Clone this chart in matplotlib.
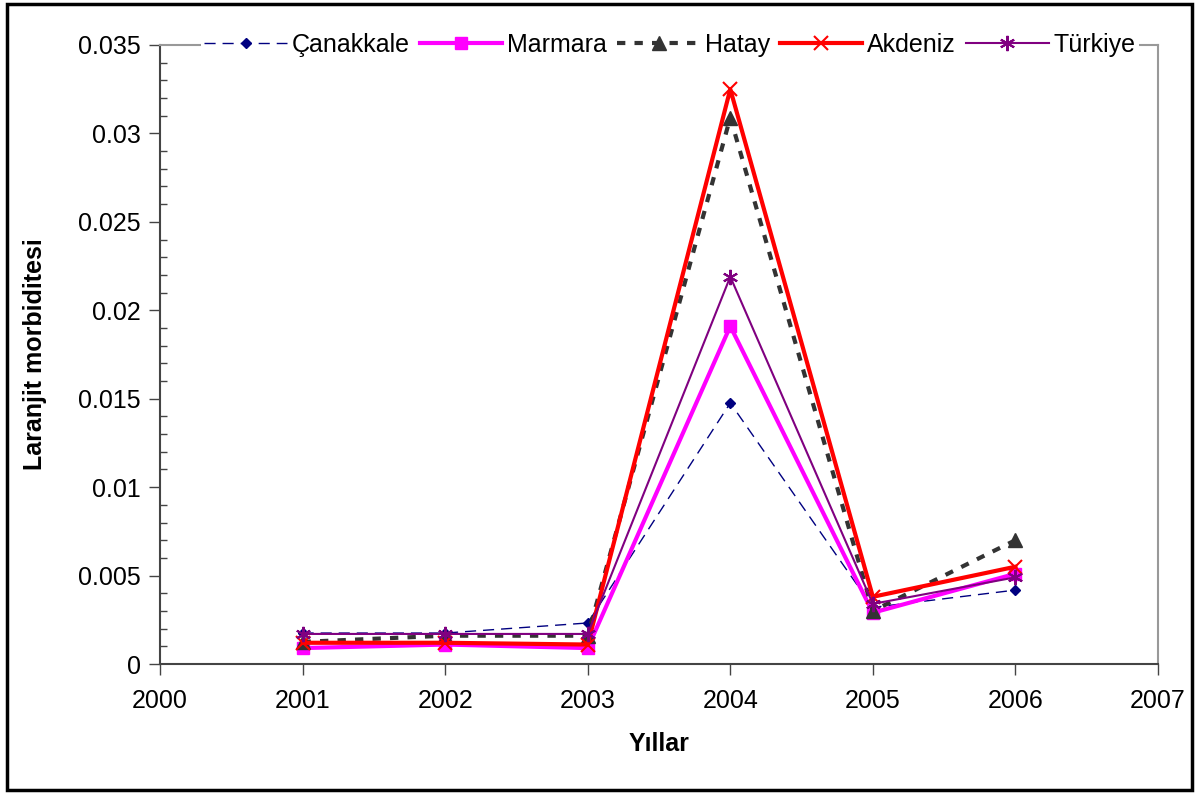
import matplotlib
matplotlib.use("Agg")
import matplotlib.pyplot as plt
from matplotlib.patches import Rectangle
from matplotlib.ticker import MultipleLocator, FuncFormatter

years = [2001, 2002, 2003, 2004, 2005, 2006]
canakkale = [0.00175, 0.00175, 0.00232, 0.01476, 0.0032, 0.00418]
marmara = [0.0009, 0.0011, 0.0009, 0.0191, 0.0029, 0.0051]
hatay = [0.00125, 0.0016, 0.0016, 0.0309, 0.0030, 0.0070]
akdeniz = [0.0012, 0.0012, 0.0011, 0.0325, 0.0038, 0.0055]
turkiye = [0.0017, 0.0017, 0.0017, 0.0219, 0.0034, 0.0049]
labels = ["Çanakkale", "Marmara", "Hatay", "Akdeniz", "Türkiye"]

plt.rcParams['font.family'] = ['Liberation Sans', 'DejaVu Sans']

fig = plt.figure(figsize=(11.98, 7.94), dpi=100)
ax = fig.add_axes([160/1198, 1-664/794, (1158-160)/1198, (664-45)/794])

ax.plot(years, canakkale, color='#000080', lw=1, ls=(0, (8, 5)), marker='D', ms=5,
        label=labels[0])
ax.plot(years, marmara, color='#FF00FF', lw=3, marker='s', ms=8, label=labels[1])
ax.plot(years, hatay, color='#333333', lw=3, ls=(0, (2, 2.2)), marker='^', ms=10,
        label=labels[2])
ax.plot(years, akdeniz, color='#FF0000', lw=3, marker='x', ms=10, mew=1.5,
        label=labels[3])
ax.plot(years, turkiye, color='#800080', lw=1.5, marker=(6, 2, 0), ms=11, mew=1.5,
        label=labels[4])

ax.set_xlim(2000, 2007)
ax.set_ylim(0, 0.035)
ax.xaxis.set_major_locator(MultipleLocator(1))
ax.yaxis.set_major_locator(MultipleLocator(0.005))
ax.yaxis.set_minor_locator(MultipleLocator(0.001))
ax.yaxis.set_major_formatter(FuncFormatter(lambda v, p: f"{round(v, 4):g}" if v > 1e-12 else "0"))
ax.tick_params(axis='both', which='major', direction='out', length=8, width=1,
               labelsize=18, color='#444444')
ax.tick_params(axis='y', which='major', pad=6)
ax.tick_params(axis='x', which='major', pad=10)
ax.tick_params(axis='y', which='minor', direction='in', length=5, width=1, color='#444444')

for s in ['top', 'right']:
    ax.spines[s].set_color('#999999')
    ax.spines[s].set_linewidth(1.5)
for s in ['left', 'bottom']:
    ax.spines[s].set_color('#444444')
    ax.spines[s].set_linewidth(1.5)

ax.set_xlabel("Yıllar", fontsize=18, fontweight='bold', labelpad=14)
ax.set_ylabel("Laranjit morbiditesi", fontsize=18, fontweight='bold', labelpad=22)

leg = fig.legend(loc='center', bbox_to_anchor=(670/1198, 1-45/794), ncol=5,
                 fontsize=18, frameon=True, fancybox=False, edgecolor='none',
                 framealpha=1, handlelength=3.3, handletextpad=0.2,
                 columnspacing=0.4, borderpad=0.15)

fig.patches.append(Rectangle((7/1198, 4/794), (1192-7)/1198, (790-4)/794,
                             transform=fig.transFigure, fill=False,
                             edgecolor='black', lw=2.5))

fig.savefig("out.png", dpi=100)
